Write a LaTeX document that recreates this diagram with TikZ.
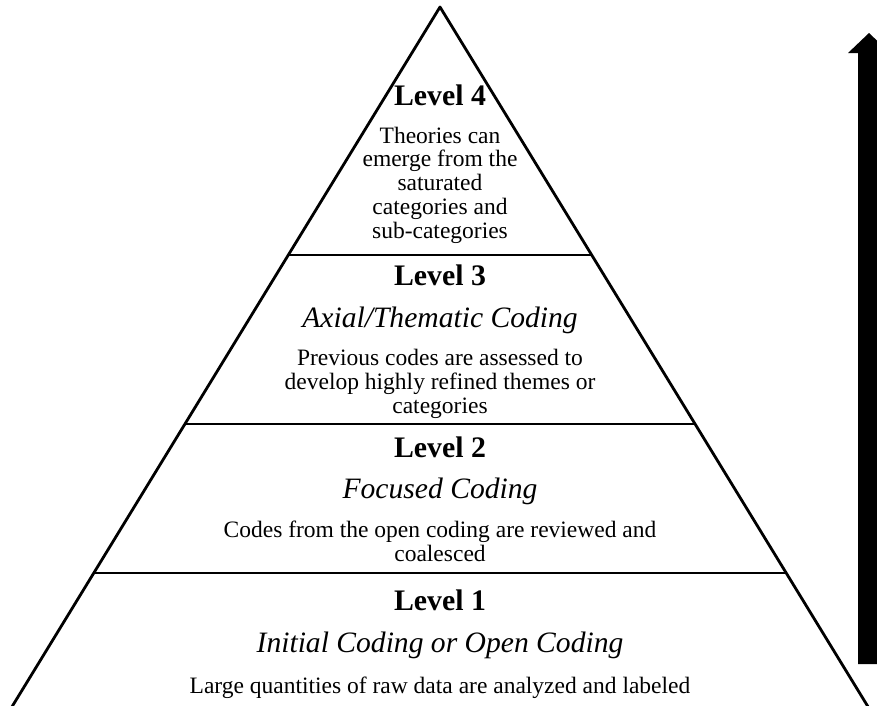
\documentclass[tikz,border=0pt]{standalone}
\usepackage{fontspec}
\setmainfont{Liberation Serif}
\begin{document}
\begin{tikzpicture}[x=1pt,y=-1pt,
  edge/.style={line width=2.8pt,line cap=round,line join=round},
  lvl/.style={font=\fontsize{29.8}{32}\selectfont\bfseries,inner sep=0pt,anchor=base},
  ital/.style={font=\fontsize{29.6}{32}\selectfont\itshape,inner sep=0pt,anchor=base},
  body/.style={font=\fontsize{23.5}{25}\selectfont,inner sep=0pt,anchor=base,align=center}]
\useasboundingbox (0,0) rectangle (877,705);
\clip (0,0) rectangle (877,705);
% pyramid
\coordinate (apex) at (440,7);
\coordinate (bl) at (440-0.6117*723,730);
\coordinate (br) at (440+0.6117*723,730);
\draw[edge] (bl) -- (apex) -- (br);
\foreach \y/\n in {255/a,424/b,573/c}{
  \coordinate (\n l) at ({440-0.6117*(\y-7)},\y);
  \coordinate (\n r) at ({440+0.6117*(\y-7)},\y);
  \draw[edge,line cap=butt] (\n l) -- (\n r);
}
% arrow
\fill (858,664) -- (858,53) -- (848,53) -- (869,33) -- (890,53) -- (880,53) -- (880,664) -- cycle;
% Level 4
\node[lvl] (l4) at (440,105) {Level 4};
\node[body] (t4a) at (440,143) {Theories can};
\node[body] (t4b) at (440,166) {emerge from the};
\node[body] (t4c) at (440,190) {saturated};
\node[body] (t4d) at (440,214) {categories and};
\node[body] (t4e) at (440,238) {sub-categories};
% Level 3
\node[lvl] (l3) at (440,285) {Level 3};
\node[ital] (i3) at (440,327) {Axial/Thematic Coding};
\node[body] (t3a) at (440,365) {Previous codes are assessed to};
\node[body] (t3b) at (440,389) {develop highly refined themes or};
\node[body] (t3c) at (440,413) {categories};
% Level 2
\node[lvl] (l2) at (440,457) {Level 2};
\node[ital] (i2) at (440,498) {Focused Coding};
\node[body] (t2a) at (440,537) {Codes from the open coding are reviewed and};
\node[body] (t2b) at (440,561) {coalesced};
% Level 1
\node[lvl] (l1) at (440,610) {Level 1};
\node[ital] (i1) at (440,652) {Initial Coding or Open Coding};
\node[body] (t1a) at (440,693) {Large quantities of raw data are analyzed and labeled};
\end{tikzpicture}
\end{document}
